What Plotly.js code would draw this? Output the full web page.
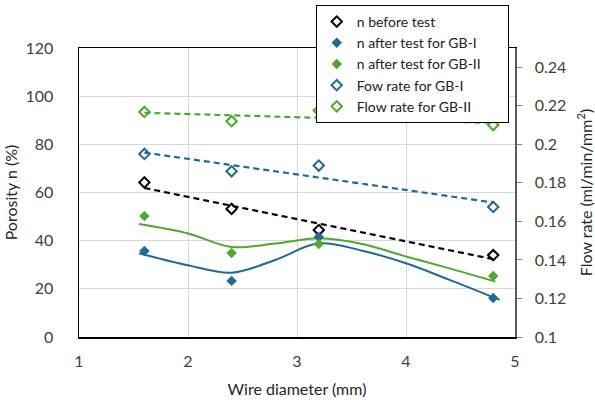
<!DOCTYPE html>
<html>
<head>
<meta charset="utf-8">
<script src="https://cdn.plot.ly/plotly-3.0.1.min.js"></script>
<style>html,body{margin:0;padding:0;background:#fff;}#chart{width:595px;height:400px;}</style>
</head>
<body>
<div id="chart"></div>
<script>
// Data
var wireDiameter = [1.6, 2.4, 3.2, 4.8];
var nBefore = [64.2, 53.2, 44.4, 34.0];
var nAfterGB1 = [35.7, 23.3, 41.5, 16.2];
var nAfterGB2 = [50.2, 34.9, 38.6, 25.3];
var flowGB1 = [0.195, 0.186, 0.189, 0.1675];
var flowGB2 = [0.2168, 0.212, 0.2175, 0.210];

// Smooth curves
var curveX1 = [1.55, 2.0, 2.4, 2.8, 3.2, 3.6, 4.0, 4.4, 4.86];
var curveGB1 = [34.8, 29.8, 26.7, 32.0, 38.9, 35.8, 30.6, 23.7, 15.4];
var curveX2 = [1.55, 2.0, 2.4, 2.8, 3.2, 3.6, 4.0, 4.4, 4.82];
var curveGB2 = [46.9, 43.0, 37.4, 38.8, 41.0, 38.6, 33.4, 28.5, 23.0];

var seriesNames = ['n before test', 'n after test for GB-I', 'n after test for GB-II\u00a0\u00a0\u00a0\u00a0\u00a0\u00a0', 'Fow rate for GB-I', 'Flow rate for GB-II'];
var xTicks = [1, 2, 3, 4, 5];

var BLUE = '#1f6b93';
var GREEN = '#4ea72e';
var FONT = 'Lato, "Open Sans", sans-serif';

function linFit(xs, ys) {
  var n = xs.length, mx = 0, my = 0;
  for (var i = 0; i < n; i++) { mx += xs[i]; my += ys[i]; }
  mx /= n; my /= n;
  var sxy = 0, sxx = 0;
  for (var j = 0; j < n; j++) { sxy += (xs[j]-mx)*(ys[j]-my); sxx += (xs[j]-mx)*(xs[j]-mx); }
  var b = sxy / sxx, a = my - b*mx;
  var x0 = xs[0], x1 = xs[n-1];
  return {x: [x0, x1], y: [a + b*x0, a + b*x1]};
}

var tBefore = linFit(wireDiameter, nBefore);
var tFlow1 = linFit(wireDiameter, flowGB1);
var tFlow2 = linFit(wireDiameter, flowGB2);

var traces = [
  // trend lines
  {x: tBefore.x, y: tBefore.y, mode: 'lines', line: {color: '#000', width: 2.2, dash: '6px,4px'}, showlegend: false, hoverinfo: 'skip'},
  {x: tFlow1.x, y: tFlow1.y, yaxis: 'y2', mode: 'lines', line: {color: BLUE, width: 2.2, dash: '6px,4px'}, showlegend: false, hoverinfo: 'skip'},
  {x: tFlow2.x, y: tFlow2.y, yaxis: 'y2', mode: 'lines', line: {color: GREEN, width: 2.2, dash: '6px,4px'}, showlegend: false, hoverinfo: 'skip'},
  {x: curveX1, y: curveGB1, mode: 'lines', line: {color: BLUE, width: 2, shape: 'spline', smoothing: 1}, showlegend: false, hoverinfo: 'skip'},
  {x: curveX2, y: curveGB2, mode: 'lines', line: {color: GREEN, width: 2, shape: 'spline', smoothing: 1}, showlegend: false, hoverinfo: 'skip'},
  // markers
  {x: wireDiameter, y: nBefore, name: seriesNames[0], mode: 'markers',
   marker: {symbol: 'diamond-open', size: 8, color: '#000', line: {width: 2}}},
  {x: wireDiameter, y: nAfterGB1, name: seriesNames[1], mode: 'markers',
   marker: {symbol: 'diamond', size: 8, color: BLUE}},
  {x: wireDiameter, y: nAfterGB2, name: seriesNames[2], mode: 'markers',
   marker: {symbol: 'diamond', size: 8, color: GREEN}},
  {x: wireDiameter, y: flowGB1, yaxis: 'y2', name: seriesNames[3], mode: 'markers',
   marker: {symbol: 'diamond-open', size: 8, color: BLUE, line: {width: 2}}},
  {x: wireDiameter, y: flowGB2, yaxis: 'y2', name: seriesNames[4], mode: 'markers',
   marker: {symbol: 'diamond-open', size: 8, color: GREEN, line: {width: 2}}}
];

var layout = {
  width: 595, height: 400,
  margin: {l: 79, r: 80, t: 48, b: 63, autoexpand: false},
  paper_bgcolor: '#fff', plot_bgcolor: '#fff',
  font: {family: FONT, size: 16, color: '#404040'},
  showlegend: true,
  legend: {
    x: 0.543, y: 1.149, xanchor: 'left', yanchor: 'top',
    bgcolor: '#fff', bordercolor: '#000', borderwidth: 1,
    font: {family: FONT, size: 14, color: '#222'},
    tracegroupgap: 0
  },
  xaxis: {
    range: [1, 5], tickvals: xTicks, ticktext: xTicks.map(String),
    showline: true, linecolor: '#000', linewidth: 1.5, mirror: true,
    showgrid: true, gridcolor: '#d9d9d9', zeroline: false,
    ticks: '', ticklabelstandoff: 9,
    title: {text: 'Wire diameter (mm)', font: {family: FONT, size: 16, color: '#262626'}, standoff: 15}
  },
  yaxis: {
    range: [0, 120], dtick: 20, tick0: 0,
    showline: true, linecolor: '#000', linewidth: 1.5,
    showgrid: true, gridcolor: '#d9d9d9', zeroline: false,
    ticks: '', ticklabelstandoff: 21,
    title: {text: 'Porosity n (%)', font: {family: FONT, size: 16, color: '#262626'}, standoff: 4}
  },
  yaxis2: {
    overlaying: 'y', side: 'right',
    range: [0.1, 0.25], dtick: 0.02, tick0: 0.1,
    showline: true, linecolor: '#595959', linewidth: 1.5,
    showgrid: false, zeroline: false,
    ticks: 'outside', ticklen: 5, tickcolor: '#808080', ticklabelstandoff: 10,
    title: {text: 'Flow rate (ml/min/mm<sup>2</sup>)', font: {family: FONT, size: 16, color: '#262626'}, standoff: 16}
  }
};

Plotly.newPlot('chart', traces, layout, {displayModeBar: false, staticPlot: true});
</script>
</body>
</html>
